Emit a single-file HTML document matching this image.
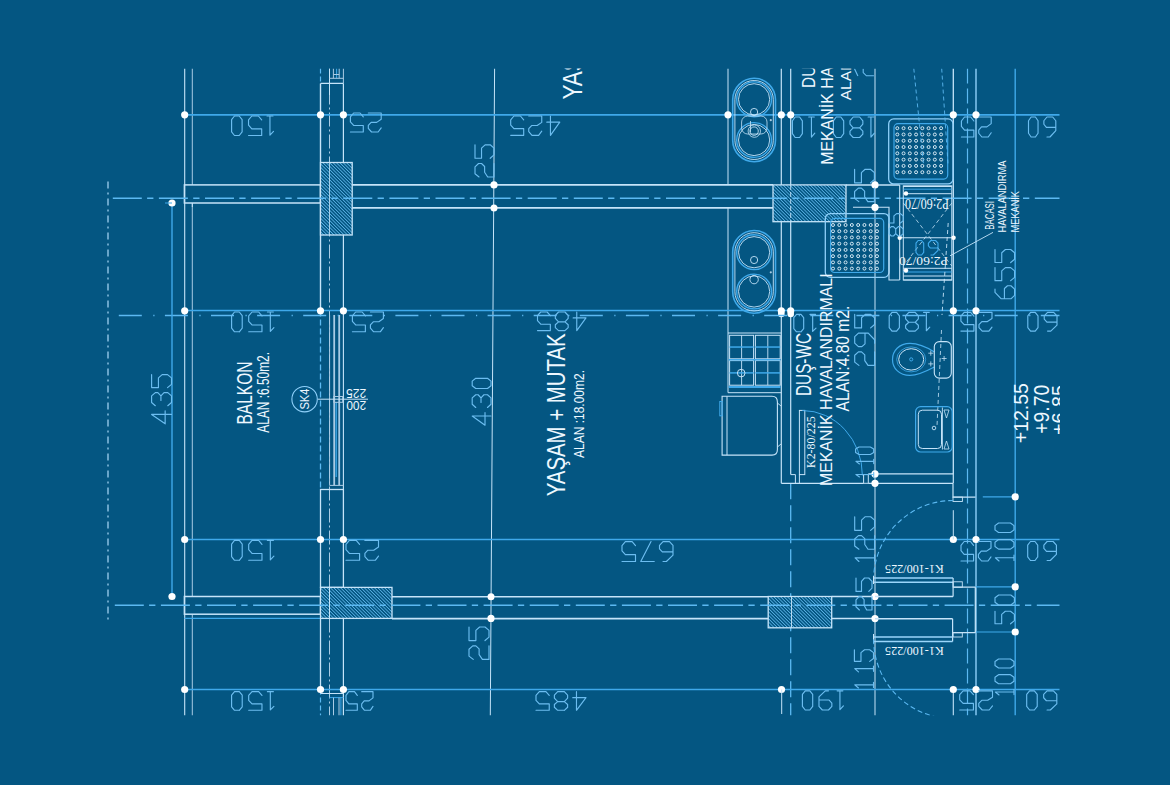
<!DOCTYPE html>
<html><head><meta charset="utf-8"><style>
html,body{margin:0;padding:0;background:#045682;}
svg{display:block;}
</style></head><body>
<svg width="1170" height="785" viewBox="0 0 1170 785">
<defs>
<pattern id="hatch" patternUnits="userSpaceOnUse" width="2.4" height="2.4" patternTransform="rotate(-45)">
<rect width="2.4" height="2.4" fill="#045682"/>
<line x1="0" y1="0" x2="0" y2="2.4" stroke="#6cc6fc" stroke-width="1.3"/>
</pattern>
<clipPath id="clip"><rect x="0" y="68.5" width="1060" height="647"/></clipPath>
</defs>
<rect width="1170" height="785" fill="#045682"/>
<g clip-path="url(#clip)">
<line x1="108" y1="181.5" x2="108" y2="619.6" stroke="#9fd0f0" stroke-width="1.3" stroke-dasharray="7 4 2 4"/>
<line x1="184.7" y1="68.5" x2="184.7" y2="715.5" stroke="#c6e4f9" stroke-width="1.1"/>
<line x1="192.3" y1="68.5" x2="192.3" y2="184.9" stroke="#a9cbe4" stroke-width="1.0"/>
<line x1="192.3" y1="203" x2="192.3" y2="596.5" stroke="#a9cbe4" stroke-width="1.0"/>
<line x1="192.3" y1="614.2" x2="192.3" y2="715.5" stroke="#a9cbe4" stroke-width="1.0"/>
<line x1="494.6" y1="68.5" x2="490.3" y2="715.5" stroke="#c6e4f9" stroke-width="1.0"/>
<line x1="875" y1="68.5" x2="875" y2="715.5" stroke="#c6e4f9" stroke-width="1.0"/>
<line x1="953.3" y1="68.5" x2="953.3" y2="473.9" stroke="#c6e4f9" stroke-width="1.3"/>
<line x1="953.3" y1="689.5" x2="953.3" y2="715.5" stroke="#c6e4f9" stroke-width="1.1"/>
<line x1="967.5" y1="68.5" x2="967.5" y2="715.5" stroke="#5cb9f2" stroke-width="1.2" stroke-dasharray="15 5"/>
<line x1="976" y1="68.5" x2="976" y2="715.5" stroke="#8fd0fa" stroke-width="1.4"/>
<line x1="1015.2" y1="68.5" x2="1015.2" y2="715.5" stroke="#3fa9ea" stroke-width="1.4"/>
<line x1="728" y1="68.5" x2="728" y2="184.9" stroke="#c6e4f9" stroke-width="1.0"/>
<line x1="728" y1="207.9" x2="728" y2="392.7" stroke="#c6e4f9" stroke-width="1.0"/>
<line x1="781.3" y1="68.5" x2="781.3" y2="184.9" stroke="#c6e4f9" stroke-width="1.2"/>
<line x1="781.3" y1="221.7" x2="781.3" y2="483.3" stroke="#c6e4f9" stroke-width="1.2"/>
<line x1="790.7" y1="68.5" x2="790.7" y2="184.9" stroke="#c6e4f9" stroke-width="1.2"/>
<line x1="790.7" y1="221.7" x2="790.7" y2="474.6" stroke="#c6e4f9" stroke-width="1.2"/>
<line x1="790.7" y1="483.3" x2="790.7" y2="715.5" stroke="#5cb9f2" stroke-width="1.3" stroke-dasharray="16 6"/>
<line x1="320.5" y1="68.5" x2="320.5" y2="83.4" stroke="#5cb9f2" stroke-width="1.2" stroke-dasharray="5 3"/>
<line x1="329.5" y1="68.5" x2="329.5" y2="715.5" stroke="#a9cbe4" stroke-width="1.0" stroke-dasharray="14 3 2 3"/>
<line x1="329.5" y1="68.5" x2="329.5" y2="95" stroke="#c6e4f9" stroke-width="1.0"/>
<line x1="333.4" y1="68.5" x2="333.4" y2="78.3" stroke="#a9cbe4" stroke-width="1.0"/>
<line x1="339.2" y1="68.5" x2="339.2" y2="78.3" stroke="#a9cbe4" stroke-width="1.0"/>
<line x1="336.6" y1="68.5" x2="336.6" y2="78.3" stroke="#3fa9ea" stroke-width="1.0"/>
<line x1="333.4" y1="74.5" x2="339.2" y2="74.5" stroke="#a9cbe4" stroke-width="1.0"/>
<line x1="329.5" y1="78.3" x2="343.4" y2="78.3" stroke="#a9cbe4" stroke-width="1.0"/>
<line x1="343.4" y1="68.5" x2="343.4" y2="83.4" stroke="#a9cbe4" stroke-width="1.0"/>
<line x1="320.5" y1="83.4" x2="343.4" y2="83.4" stroke="#c6e4f9" stroke-width="1.4"/>
<line x1="320.5" y1="83.4" x2="320.5" y2="310.5" stroke="#c6e4f9" stroke-width="1.4"/>
<line x1="343.4" y1="83.4" x2="343.4" y2="310.5" stroke="#c6e4f9" stroke-width="1.2"/>
<line x1="320.5" y1="310.5" x2="320.5" y2="489.5" stroke="#5cb9f2" stroke-width="1.3" stroke-dasharray="6 3"/>
<line x1="329.6" y1="315" x2="329.6" y2="485.4" stroke="#a9cbe4" stroke-width="1.0"/>
<line x1="334.2" y1="315" x2="334.2" y2="485.4" stroke="#a9cbe4" stroke-width="1.8"/>
<line x1="339.2" y1="315" x2="339.2" y2="485.4" stroke="#a9cbe4" stroke-width="1.8"/>
<line x1="343.4" y1="310.5" x2="343.4" y2="489.5" stroke="#c6e4f9" stroke-width="1.1"/>
<line x1="336.2" y1="402" x2="336.2" y2="477" stroke="#3fa9ea" stroke-width="1.3"/>
<rect x="333.8" y="396.5" width="8.899999999999977" height="5.800000000000011" rx="0" fill="none" stroke="#a9cbe4" stroke-width="1.0"/>
<line x1="329.6" y1="485.4" x2="343.4" y2="485.4" stroke="#a9cbe4" stroke-width="1.0"/>
<line x1="318" y1="399.2" x2="368" y2="399.2" stroke="#c6e4f9" stroke-width="1.0"/>
<rect x="320.5" y="489.5" width="22.899999999999977" height="97.89999999999998" rx="0" fill="none" stroke="#c6e4f9" stroke-width="1.3"/>
<line x1="320.5" y1="618.4" x2="320.5" y2="689.5" stroke="#c6e4f9" stroke-width="1.3"/>
<line x1="343.4" y1="618.4" x2="343.4" y2="715.5" stroke="#c6e4f9" stroke-width="1.2"/>
<line x1="320.5" y1="689.5" x2="320.5" y2="715.5" stroke="#5cb9f2" stroke-width="1.2" stroke-dasharray="5 3"/>
<line x1="320.5" y1="693.5" x2="343.4" y2="693.5" stroke="#c6e4f9" stroke-width="1.2"/>
<line x1="329.5" y1="697.6" x2="343.4" y2="697.6" stroke="#3fa9ea" stroke-width="1.0"/>
<line x1="333.5" y1="697.6" x2="333.5" y2="715.5" stroke="#a9cbe4" stroke-width="1.0"/>
<line x1="339" y1="697.6" x2="339" y2="715.5" stroke="#a9cbe4" stroke-width="1.0"/>
<line x1="340.9" y1="697.6" x2="340.9" y2="715.5" stroke="#3fa9ea" stroke-width="1.0"/>
<circle cx="304.6" cy="399.2" r="12.7" fill="none" stroke="#8fd0fa" stroke-width="1.1"/>
<text transform="translate(309.2,409.6) rotate(-90)" x="0" y="0" font-family="Liberation Sans" font-size="12.21" fill="#eef8ff" textLength="21.1" lengthAdjust="spacingAndGlyphs">SK4</text>
<line x1="184.7" y1="114.8" x2="1059.5" y2="114.8" stroke="#3fa9ea" stroke-width="1.7"/>
<line x1="184.7" y1="310.5" x2="1059.5" y2="310.5" stroke="#3fa9ea" stroke-width="1.7"/>
<line x1="184.7" y1="539.5" x2="1059.5" y2="539.5" stroke="#3fa9ea" stroke-width="1.7"/>
<line x1="184.7" y1="689.5" x2="1059.5" y2="689.5" stroke="#3fa9ea" stroke-width="1.7"/>
<circle cx="184.7" cy="114.8" r="3.6" fill="#ffffff"/>
<circle cx="320.5" cy="114.8" r="3.6" fill="#ffffff"/>
<circle cx="343.4" cy="114.8" r="3.6" fill="#ffffff"/>
<circle cx="728" cy="114.8" r="3.6" fill="#ffffff"/>
<circle cx="781.3" cy="114.8" r="3.6" fill="#ffffff"/>
<circle cx="790.7" cy="114.8" r="3.6" fill="#ffffff"/>
<circle cx="953.3" cy="114.8" r="3.6" fill="#ffffff"/>
<circle cx="976" cy="114.8" r="3.6" fill="#ffffff"/>
<circle cx="184.7" cy="310.8" r="3.6" fill="#ffffff"/>
<circle cx="320.5" cy="310.8" r="3.6" fill="#ffffff"/>
<circle cx="343.4" cy="310.8" r="3.6" fill="#ffffff"/>
<circle cx="781.3" cy="310.8" r="3.6" fill="#ffffff"/>
<circle cx="790.7" cy="310.8" r="3.6" fill="#ffffff"/>
<circle cx="953.3" cy="310.8" r="3.6" fill="#ffffff"/>
<circle cx="976" cy="310.8" r="3.6" fill="#ffffff"/>
<circle cx="781.3" cy="314" r="3.3" fill="#ffffff"/>
<circle cx="790.7" cy="314" r="3.3" fill="#ffffff"/>
<circle cx="184.7" cy="539.5" r="3.6" fill="#ffffff"/>
<circle cx="320.5" cy="539.5" r="3.6" fill="#ffffff"/>
<circle cx="343.4" cy="539.5" r="3.6" fill="#ffffff"/>
<circle cx="953.3" cy="539.5" r="3.6" fill="#ffffff"/>
<circle cx="976" cy="539.5" r="3.6" fill="#ffffff"/>
<circle cx="184.7" cy="689.5" r="3.6" fill="#ffffff"/>
<circle cx="320.5" cy="689.5" r="3.6" fill="#ffffff"/>
<circle cx="343.4" cy="689.5" r="3.6" fill="#ffffff"/>
<circle cx="781.5" cy="689.5" r="3.6" fill="#ffffff"/>
<circle cx="953.3" cy="689.5" r="3.6" fill="#ffffff"/>
<circle cx="976" cy="689.5" r="3.6" fill="#ffffff"/>
<rect x="184.4" y="184.9" width="136.1" height="18.099999999999994" rx="0" fill="none" stroke="#c6e4f9" stroke-width="1.5"/>
<line x1="192.3" y1="203" x2="192.3" y2="207" stroke="#c6e4f9" stroke-width="1"/>
<line x1="352" y1="184.9" x2="773" y2="184.9" stroke="#c6e4f9" stroke-width="1.6"/>
<line x1="352" y1="207.9" x2="773" y2="207.9" stroke="#c6e4f9" stroke-width="1.6"/>
<rect x="320.5" y="162.5" width="31.69999999999999" height="72.5" fill="url(#hatch)" stroke="#c6e4f9" stroke-width="1.3"/>
<rect x="773" y="184.9" width="73" height="36.79999999999998" fill="url(#hatch)" stroke="#c6e4f9" stroke-width="1.3"/>
<line x1="790.7" y1="184.9" x2="790.7" y2="221.7" stroke="#c6e4f9" stroke-width="0.9" stroke-dasharray="5 2"/>
<line x1="846" y1="184.9" x2="899.7" y2="184.9" stroke="#c6e4f9" stroke-width="1.5"/>
<circle cx="494" cy="184.9" r="3.6" fill="#ffffff"/>
<circle cx="494" cy="207.9" r="3.5" fill="#ffffff"/>
<rect x="184.4" y="596.5" width="136.1" height="17.700000000000045" rx="0" fill="none" stroke="#c6e4f9" stroke-width="1.5"/>
<line x1="184.4" y1="618.4" x2="320.5" y2="618.4" stroke="#3fa9ea" stroke-width="1.3"/>
<rect x="320.5" y="587.4" width="71.5" height="31.0" fill="url(#hatch)" stroke="#c6e4f9" stroke-width="1.3"/>
<line x1="392" y1="596.8" x2="768.2" y2="596.8" stroke="#c6e4f9" stroke-width="1.6"/>
<line x1="392" y1="618.6" x2="768.2" y2="618.6" stroke="#c6e4f9" stroke-width="1.6"/>
<rect x="768.2" y="596.5" width="63.5" height="31.299999999999955" fill="url(#hatch)" stroke="#c6e4f9" stroke-width="1.3"/>
<line x1="791.5" y1="596.5" x2="791.5" y2="627.8" stroke="#c6e4f9" stroke-width="0.9"/>
<line x1="781.7" y1="689.5" x2="781.7" y2="714" stroke="#c6e4f9" stroke-width="1.0"/>
<line x1="831.7" y1="596.4" x2="875" y2="596.4" stroke="#c6e4f9" stroke-width="1.5"/>
<line x1="831.7" y1="618.6" x2="875" y2="618.6" stroke="#c6e4f9" stroke-width="1.5"/>
<circle cx="491" cy="596.8" r="3.5" fill="#ffffff"/>
<circle cx="491" cy="618.4" r="3.6" fill="#ffffff"/>
<circle cx="875" cy="596.4" r="3.6" fill="#ffffff"/>
<circle cx="875" cy="618.6" r="3.6" fill="#ffffff"/>
<line x1="329.5" y1="587.4" x2="329.5" y2="618.4" stroke="#c6e4f9" stroke-width="0.9"/>
<line x1="112.8" y1="198.3" x2="1059.5" y2="198.3" stroke="#5cb9f2" stroke-width="1.5" stroke-dasharray="29 5.3 6.3 5.5"/>
<line x1="118.8" y1="315.6" x2="1059.5" y2="315.6" stroke="#5cb9f2" stroke-width="1.5" stroke-dasharray="23 11.5 1.2 10.4"/>
<line x1="114.8" y1="605.2" x2="1059.5" y2="605.2" stroke="#5cb9f2" stroke-width="1.5" stroke-dasharray="29 5.3 6.3 5.5"/>
<line x1="329.5" y1="162.5" x2="329.5" y2="235" stroke="#c6e4f9" stroke-width="0.8"/>
<line x1="329.5" y1="587.4" x2="329.5" y2="618.4" stroke="#c6e4f9" stroke-width="0.8"/>
<line x1="172" y1="203" x2="172" y2="596.5" stroke="#3fa9ea" stroke-width="1.4"/>
<circle cx="172" cy="203" r="3.6" fill="#ffffff"/>
<circle cx="172" cy="596.5" r="3.6" fill="#ffffff"/>
<line x1="165" y1="203" x2="172" y2="203" stroke="#3fa9ea" stroke-width="1"/>
<rect x="732.7" y="78.3" width="42.8" height="83.39999999999999" rx="21.4" ry="21.4" fill="none" stroke="#3fa9ea" stroke-width="1.6"/>
<rect x="734.9" y="80.5" width="38.4" height="79.0" rx="19.2" ry="19.2" fill="none" stroke="#c6e4f9" stroke-width="0.9"/>
<circle cx="754.1" cy="99.3" r="17.4" fill="none" stroke="#3fa9ea" stroke-width="1.4"/>
<circle cx="754.1" cy="99.3" r="15.6" fill="none" stroke="#c6e4f9" stroke-width="0.9"/>
<circle cx="754.1" cy="140" r="17.4" fill="none" stroke="#3fa9ea" stroke-width="1.4"/>
<circle cx="754.1" cy="140" r="15.6" fill="none" stroke="#c6e4f9" stroke-width="0.9"/>
<circle cx="754.1" cy="112" r="3.6" fill="none" stroke="#c6e4f9" stroke-width="0.9"/>
<circle cx="754.1" cy="131.1" r="4.2" fill="none" stroke="#c6e4f9" stroke-width="0.9"/>
<circle cx="770.8" cy="120.15" r="1.1" fill="#a9cbe4"/>
<rect x="732.7" y="230.5" width="42.8" height="82.69999999999999" rx="21.4" ry="21.4" fill="none" stroke="#3fa9ea" stroke-width="1.6"/>
<rect x="734.9" y="232.7" width="38.4" height="78.30000000000001" rx="19.2" ry="19.2" fill="none" stroke="#c6e4f9" stroke-width="0.9"/>
<circle cx="754.1" cy="252.2" r="17.4" fill="none" stroke="#3fa9ea" stroke-width="1.4"/>
<circle cx="754.1" cy="252.2" r="15.6" fill="none" stroke="#c6e4f9" stroke-width="0.9"/>
<circle cx="754.1" cy="291.5" r="17.4" fill="none" stroke="#3fa9ea" stroke-width="1.4"/>
<circle cx="754.1" cy="291.5" r="15.6" fill="none" stroke="#c6e4f9" stroke-width="0.9"/>
<circle cx="754.1" cy="260" r="3.6" fill="none" stroke="#c6e4f9" stroke-width="0.9"/>
<circle cx="754.1" cy="279.6" r="4.2" fill="none" stroke="#c6e4f9" stroke-width="0.9"/>
<circle cx="770.8" cy="272.35" r="1.1" fill="#a9cbe4"/>
<rect x="741.6" y="116" width="25.399999999999977" height="18" rx="6" fill="none" stroke="#c6e4f9" stroke-width="0.8"/>
<line x1="750.5" y1="121" x2="750.5" y2="132.4" stroke="#c6e4f9" stroke-width="0.8"/>
<circle cx="754.3" cy="131.1" r="6.2" fill="none" stroke="#c6e4f9" stroke-width="0.8"/>
<line x1="728" y1="333" x2="781.3" y2="333" stroke="#c6e4f9" stroke-width="1.0"/>
<line x1="728" y1="392.7" x2="781.3" y2="392.7" stroke="#c6e4f9" stroke-width="1.0"/>
<rect x="729.6" y="335.3" width="24.0" height="23.5" rx="0" fill="none" stroke="#c6e4f9" stroke-width="1.0"/>
<line x1="741.6" y1="335.3" x2="741.6" y2="358.8" stroke="#c6e4f9" stroke-width="0.9"/>
<line x1="729.6" y1="347.05" x2="753.6" y2="347.05" stroke="#3fa9ea" stroke-width="1.5"/>
<rect x="729.6" y="360.6" width="24.0" height="24.599999999999966" rx="0" fill="none" stroke="#c6e4f9" stroke-width="1.0"/>
<line x1="741.6" y1="360.6" x2="741.6" y2="385.2" stroke="#c6e4f9" stroke-width="0.9"/>
<line x1="729.6" y1="372.9" x2="753.6" y2="372.9" stroke="#3fa9ea" stroke-width="1.5"/>
<rect x="755.4" y="335.3" width="24.800000000000068" height="23.5" rx="0" fill="none" stroke="#c6e4f9" stroke-width="1.0"/>
<line x1="767.8" y1="335.3" x2="767.8" y2="358.8" stroke="#c6e4f9" stroke-width="0.9"/>
<line x1="755.4" y1="347.05" x2="780.2" y2="347.05" stroke="#3fa9ea" stroke-width="1.5"/>
<rect x="755.4" y="360.6" width="24.800000000000068" height="24.599999999999966" rx="0" fill="none" stroke="#c6e4f9" stroke-width="1.0"/>
<line x1="767.8" y1="360.6" x2="767.8" y2="385.2" stroke="#c6e4f9" stroke-width="0.9"/>
<line x1="755.4" y1="372.9" x2="780.2" y2="372.9" stroke="#3fa9ea" stroke-width="1.5"/>
<line x1="728.7" y1="387" x2="780.4" y2="387" stroke="#3fa9ea" stroke-width="2.0"/>
<line x1="728.7" y1="359.7" x2="780.4" y2="359.7" stroke="#3fa9ea" stroke-width="1.5"/>
<circle cx="741.2" cy="373.1" r="3.8" fill="none" stroke="#c6e4f9" stroke-width="1.0"/>
<path d="M722.1,396.3 L772,396.3 Q777.4,396.3 777.4,402 L777.4,449.4 Q777.4,455.1 772,455.1 L722.1,455.1 Z" fill="none" stroke="#c6e4f9" stroke-width="1.1"/>
<line x1="727" y1="396.3" x2="727" y2="455.1" stroke="#c6e4f9" stroke-width="1.0"/>
<rect x="719.8" y="401.5" width="2.300000000000068" height="14.300000000000011" rx="0" fill="none" stroke="#3fa9ea" stroke-width="1.0"/>
<line x1="777.4" y1="403" x2="781" y2="406" stroke="#c6e4f9" stroke-width="0.9"/>
<line x1="777.4" y1="447" x2="781" y2="444" stroke="#c6e4f9" stroke-width="0.9"/>
<polyline points="781.3,483.3 863.6,483.3" fill="none" stroke="#c6e4f9" stroke-width="1.2"/>
<polyline points="790.7,474.6 795.4,474.6 795.4,483.3" fill="none" stroke="#c6e4f9" stroke-width="1.0"/>
<rect x="799.4" y="410.4" width="5.399999999999977" height="64.20000000000005" rx="0" fill="none" stroke="#c6e4f9" stroke-width="1.0"/>
<line x1="799.4" y1="474.6" x2="799.4" y2="483.3" stroke="#c6e4f9" stroke-width="1.0"/>
<path d="M802.4,410.5 A60 65 0 0 1 862.4,475.5" fill="none" stroke="#3fa9ea" stroke-width="1.0"/>
<rect x="863.6" y="474.6" width="4.699999999999932" height="8.699999999999989" rx="0" fill="none" stroke="#c6e4f9" stroke-width="1.0"/>
<line x1="868.3" y1="473.9" x2="953" y2="473.9" stroke="#c6e4f9" stroke-width="1.3"/>
<line x1="868.3" y1="483.3" x2="953" y2="483.3" stroke="#c6e4f9" stroke-width="1.3"/>
<circle cx="875" cy="473.9" r="3.6" fill="#ffffff"/>
<circle cx="875" cy="483.3" r="3.6" fill="#ffffff"/>
<polyline points="953,483.3 953,497.1 975.5,497.1" fill="none" stroke="#c6e4f9" stroke-width="1.2"/>
<rect x="953" y="497.1" width="9.399999999999977" height="4.399999999999977" rx="0" fill="none" stroke="#c6e4f9" stroke-width="0.9"/>
<line x1="953.3" y1="510.2" x2="953.3" y2="539.5" stroke="#c6e4f9" stroke-width="1.0"/>
<line x1="982.8" y1="496.8" x2="1015.2" y2="496.8" stroke="#3fa9ea" stroke-width="1.3"/>
<circle cx="1015.2" cy="496.8" r="3.6" fill="#ffffff"/>
<path d="M953.1,500.5 A79.5 79.5 0 0 0 873.6,580" fill="none" stroke="#5cb9f2" stroke-width="1.1" stroke-dasharray="5 3"/>
<line x1="873.5" y1="578" x2="953.1" y2="578" stroke="#9ad6fb" stroke-width="1.5"/>
<line x1="873.5" y1="582.3" x2="953.1" y2="582.3" stroke="#9ad6fb" stroke-width="1.5"/>
<line x1="953.1" y1="578" x2="953.1" y2="596.4" stroke="#c6e4f9" stroke-width="1.2"/>
<line x1="873.5" y1="576" x2="873.5" y2="584" stroke="#c6e4f9" stroke-width="1"/>
<rect x="953.1" y="581.8" width="9.199999999999932" height="5.400000000000091" rx="0" fill="none" stroke="#c6e4f9" stroke-width="0.9"/>
<line x1="953.1" y1="587.2" x2="975.3" y2="587.2" stroke="#c6e4f9" stroke-width="1.2"/>
<line x1="975.3" y1="587.2" x2="975.3" y2="632.7" stroke="#c6e4f9" stroke-width="1.2"/>
<line x1="976" y1="586.8" x2="1015.2" y2="586.8" stroke="#3fa9ea" stroke-width="1.2"/>
<circle cx="1015.2" cy="586.8" r="3.6" fill="#ffffff"/>
<line x1="875" y1="596.4" x2="953.1" y2="596.4" stroke="#c6e4f9" stroke-width="1.5"/>
<line x1="875" y1="618.8" x2="952.6" y2="618.8" stroke="#c6e4f9" stroke-width="1.5"/>
<line x1="952.6" y1="618.8" x2="952.6" y2="641.4" stroke="#c6e4f9" stroke-width="1.2"/>
<line x1="953.1" y1="632.7" x2="975.3" y2="632.7" stroke="#c6e4f9" stroke-width="1.2"/>
<rect x="953.1" y="632.7" width="9.199999999999932" height="4.2999999999999545" rx="0" fill="none" stroke="#c6e4f9" stroke-width="0.9"/>
<line x1="873.5" y1="637" x2="952.6" y2="637" stroke="#9ad6fb" stroke-width="1.5"/>
<line x1="873.5" y1="641.4" x2="952.6" y2="641.4" stroke="#9ad6fb" stroke-width="1.5"/>
<line x1="873.5" y1="634" x2="873.5" y2="643" stroke="#c6e4f9" stroke-width="1"/>
<line x1="976" y1="632" x2="1015.2" y2="632" stroke="#3fa9ea" stroke-width="1.2"/>
<circle cx="1015.2" cy="632" r="3.6" fill="#ffffff"/>
<path d="M873.6,639.2 A79.5 79.5 0 0 0 953.1,718.7" fill="none" stroke="#5cb9f2" stroke-width="1.1" stroke-dasharray="5 3"/>
<text transform="translate(943.7,564.7) rotate(180)" x="0" y="0" font-family="Liberation Serif" font-size="13.33" fill="#eef8ff" textLength="58.7" lengthAdjust="spacingAndGlyphs">K1-100/225</text>
<text transform="translate(943.7,646.7) rotate(180)" x="0" y="0" font-family="Liberation Serif" font-size="13.33" fill="#eef8ff" textLength="58.7" lengthAdjust="spacingAndGlyphs">K1-100/225</text>
<text transform="translate(814.8,467.9) rotate(-90)" x="0" y="0" font-family="Liberation Serif" font-size="12.12" fill="#eef8ff" textLength="51.5" lengthAdjust="spacingAndGlyphs">K2-80/225</text>
<rect x="888.7" y="118.9" width="64.29999999999995" height="65.0" rx="5" fill="none" stroke="#8fd0fa" stroke-width="1.3"/>
<rect x="894.0" y="123.7" width="53.69999999999995" height="55.4" rx="4" fill="none" stroke="#3fa9ea" stroke-width="1.2"/>
<circle cx="897.3" cy="128.2" r="1.5" fill="none" stroke="#e8f6ff" stroke-width="0.9"/>
<circle cx="897.3" cy="134.48571428571427" r="1.5" fill="none" stroke="#e8f6ff" stroke-width="0.9"/>
<circle cx="897.3" cy="140.77142857142857" r="1.5" fill="none" stroke="#e8f6ff" stroke-width="0.9"/>
<circle cx="897.3" cy="147.05714285714285" r="1.5" fill="none" stroke="#e8f6ff" stroke-width="0.9"/>
<circle cx="897.3" cy="153.34285714285713" r="1.5" fill="none" stroke="#e8f6ff" stroke-width="0.9"/>
<circle cx="897.3" cy="159.6285714285714" r="1.5" fill="none" stroke="#e8f6ff" stroke-width="0.9"/>
<circle cx="897.3" cy="165.9142857142857" r="1.5" fill="none" stroke="#e8f6ff" stroke-width="0.9"/>
<circle cx="897.3" cy="172.2" r="1.5" fill="none" stroke="#e8f6ff" stroke-width="0.9"/>
<circle cx="903.5571428571428" cy="128.2" r="1.5" fill="none" stroke="#e8f6ff" stroke-width="0.9"/>
<circle cx="903.5571428571428" cy="134.48571428571427" r="1.5" fill="none" stroke="#e8f6ff" stroke-width="0.9"/>
<circle cx="903.5571428571428" cy="140.77142857142857" r="1.5" fill="none" stroke="#e8f6ff" stroke-width="0.9"/>
<circle cx="903.5571428571428" cy="147.05714285714285" r="1.5" fill="none" stroke="#e8f6ff" stroke-width="0.9"/>
<circle cx="903.5571428571428" cy="153.34285714285713" r="1.5" fill="none" stroke="#e8f6ff" stroke-width="0.9"/>
<circle cx="903.5571428571428" cy="159.6285714285714" r="1.5" fill="none" stroke="#e8f6ff" stroke-width="0.9"/>
<circle cx="903.5571428571428" cy="165.9142857142857" r="1.5" fill="none" stroke="#e8f6ff" stroke-width="0.9"/>
<circle cx="903.5571428571428" cy="172.2" r="1.5" fill="none" stroke="#e8f6ff" stroke-width="0.9"/>
<circle cx="909.8142857142857" cy="128.2" r="1.5" fill="none" stroke="#e8f6ff" stroke-width="0.9"/>
<circle cx="909.8142857142857" cy="134.48571428571427" r="1.5" fill="none" stroke="#e8f6ff" stroke-width="0.9"/>
<circle cx="909.8142857142857" cy="140.77142857142857" r="1.5" fill="none" stroke="#e8f6ff" stroke-width="0.9"/>
<circle cx="909.8142857142857" cy="147.05714285714285" r="1.5" fill="none" stroke="#e8f6ff" stroke-width="0.9"/>
<circle cx="909.8142857142857" cy="153.34285714285713" r="1.5" fill="none" stroke="#e8f6ff" stroke-width="0.9"/>
<circle cx="909.8142857142857" cy="159.6285714285714" r="1.5" fill="none" stroke="#e8f6ff" stroke-width="0.9"/>
<circle cx="909.8142857142857" cy="165.9142857142857" r="1.5" fill="none" stroke="#e8f6ff" stroke-width="0.9"/>
<circle cx="909.8142857142857" cy="172.2" r="1.5" fill="none" stroke="#e8f6ff" stroke-width="0.9"/>
<circle cx="916.0714285714286" cy="128.2" r="1.5" fill="none" stroke="#e8f6ff" stroke-width="0.9"/>
<circle cx="916.0714285714286" cy="134.48571428571427" r="1.5" fill="none" stroke="#e8f6ff" stroke-width="0.9"/>
<circle cx="916.0714285714286" cy="140.77142857142857" r="1.5" fill="none" stroke="#e8f6ff" stroke-width="0.9"/>
<circle cx="916.0714285714286" cy="147.05714285714285" r="1.5" fill="none" stroke="#e8f6ff" stroke-width="0.9"/>
<circle cx="916.0714285714286" cy="153.34285714285713" r="1.5" fill="none" stroke="#e8f6ff" stroke-width="0.9"/>
<circle cx="916.0714285714286" cy="159.6285714285714" r="1.5" fill="none" stroke="#e8f6ff" stroke-width="0.9"/>
<circle cx="916.0714285714286" cy="165.9142857142857" r="1.5" fill="none" stroke="#e8f6ff" stroke-width="0.9"/>
<circle cx="916.0714285714286" cy="172.2" r="1.5" fill="none" stroke="#e8f6ff" stroke-width="0.9"/>
<circle cx="922.3285714285714" cy="128.2" r="1.5" fill="none" stroke="#e8f6ff" stroke-width="0.9"/>
<circle cx="922.3285714285714" cy="134.48571428571427" r="1.5" fill="none" stroke="#e8f6ff" stroke-width="0.9"/>
<circle cx="922.3285714285714" cy="140.77142857142857" r="1.5" fill="none" stroke="#e8f6ff" stroke-width="0.9"/>
<circle cx="922.3285714285714" cy="147.05714285714285" r="1.5" fill="none" stroke="#e8f6ff" stroke-width="0.9"/>
<circle cx="922.3285714285714" cy="153.34285714285713" r="1.5" fill="none" stroke="#e8f6ff" stroke-width="0.9"/>
<circle cx="922.3285714285714" cy="159.6285714285714" r="1.5" fill="none" stroke="#e8f6ff" stroke-width="0.9"/>
<circle cx="922.3285714285714" cy="165.9142857142857" r="1.5" fill="none" stroke="#e8f6ff" stroke-width="0.9"/>
<circle cx="922.3285714285714" cy="172.2" r="1.5" fill="none" stroke="#e8f6ff" stroke-width="0.9"/>
<circle cx="928.5857142857143" cy="128.2" r="1.5" fill="none" stroke="#e8f6ff" stroke-width="0.9"/>
<circle cx="928.5857142857143" cy="134.48571428571427" r="1.5" fill="none" stroke="#e8f6ff" stroke-width="0.9"/>
<circle cx="928.5857142857143" cy="140.77142857142857" r="1.5" fill="none" stroke="#e8f6ff" stroke-width="0.9"/>
<circle cx="928.5857142857143" cy="147.05714285714285" r="1.5" fill="none" stroke="#e8f6ff" stroke-width="0.9"/>
<circle cx="928.5857142857143" cy="153.34285714285713" r="1.5" fill="none" stroke="#e8f6ff" stroke-width="0.9"/>
<circle cx="928.5857142857143" cy="159.6285714285714" r="1.5" fill="none" stroke="#e8f6ff" stroke-width="0.9"/>
<circle cx="928.5857142857143" cy="165.9142857142857" r="1.5" fill="none" stroke="#e8f6ff" stroke-width="0.9"/>
<circle cx="928.5857142857143" cy="172.2" r="1.5" fill="none" stroke="#e8f6ff" stroke-width="0.9"/>
<circle cx="934.8428571428572" cy="128.2" r="1.5" fill="none" stroke="#e8f6ff" stroke-width="0.9"/>
<circle cx="934.8428571428572" cy="134.48571428571427" r="1.5" fill="none" stroke="#e8f6ff" stroke-width="0.9"/>
<circle cx="934.8428571428572" cy="140.77142857142857" r="1.5" fill="none" stroke="#e8f6ff" stroke-width="0.9"/>
<circle cx="934.8428571428572" cy="147.05714285714285" r="1.5" fill="none" stroke="#e8f6ff" stroke-width="0.9"/>
<circle cx="934.8428571428572" cy="153.34285714285713" r="1.5" fill="none" stroke="#e8f6ff" stroke-width="0.9"/>
<circle cx="934.8428571428572" cy="159.6285714285714" r="1.5" fill="none" stroke="#e8f6ff" stroke-width="0.9"/>
<circle cx="934.8428571428572" cy="165.9142857142857" r="1.5" fill="none" stroke="#e8f6ff" stroke-width="0.9"/>
<circle cx="934.8428571428572" cy="172.2" r="1.5" fill="none" stroke="#e8f6ff" stroke-width="0.9"/>
<circle cx="941.1" cy="128.2" r="1.5" fill="none" stroke="#e8f6ff" stroke-width="0.9"/>
<circle cx="941.1" cy="134.48571428571427" r="1.5" fill="none" stroke="#e8f6ff" stroke-width="0.9"/>
<circle cx="941.1" cy="140.77142857142857" r="1.5" fill="none" stroke="#e8f6ff" stroke-width="0.9"/>
<circle cx="941.1" cy="147.05714285714285" r="1.5" fill="none" stroke="#e8f6ff" stroke-width="0.9"/>
<circle cx="941.1" cy="153.34285714285713" r="1.5" fill="none" stroke="#e8f6ff" stroke-width="0.9"/>
<circle cx="941.1" cy="159.6285714285714" r="1.5" fill="none" stroke="#e8f6ff" stroke-width="0.9"/>
<circle cx="941.1" cy="165.9142857142857" r="1.5" fill="none" stroke="#e8f6ff" stroke-width="0.9"/>
<circle cx="941.1" cy="172.2" r="1.5" fill="none" stroke="#e8f6ff" stroke-width="0.9"/>
<rect x="825.3" y="213.6" width="63.700000000000045" height="63.70000000000002" rx="5" fill="none" stroke="#8fd0fa" stroke-width="1.3"/>
<rect x="830.5999999999999" y="218.4" width="53.100000000000044" height="54.100000000000016" rx="4" fill="none" stroke="#3fa9ea" stroke-width="1.2"/>
<circle cx="833.0" cy="225.0" r="1.5" fill="none" stroke="#e8f6ff" stroke-width="0.9"/>
<circle cx="833.0" cy="231.22857142857143" r="1.5" fill="none" stroke="#e8f6ff" stroke-width="0.9"/>
<circle cx="833.0" cy="237.45714285714286" r="1.5" fill="none" stroke="#e8f6ff" stroke-width="0.9"/>
<circle cx="833.0" cy="243.6857142857143" r="1.5" fill="none" stroke="#e8f6ff" stroke-width="0.9"/>
<circle cx="833.0" cy="249.91428571428574" r="1.5" fill="none" stroke="#e8f6ff" stroke-width="0.9"/>
<circle cx="833.0" cy="256.14285714285717" r="1.5" fill="none" stroke="#e8f6ff" stroke-width="0.9"/>
<circle cx="833.0" cy="262.3714285714286" r="1.5" fill="none" stroke="#e8f6ff" stroke-width="0.9"/>
<circle cx="833.0" cy="268.6" r="1.5" fill="none" stroke="#e8f6ff" stroke-width="0.9"/>
<circle cx="839.2857142857143" cy="225.0" r="1.5" fill="none" stroke="#e8f6ff" stroke-width="0.9"/>
<circle cx="839.2857142857143" cy="231.22857142857143" r="1.5" fill="none" stroke="#e8f6ff" stroke-width="0.9"/>
<circle cx="839.2857142857143" cy="237.45714285714286" r="1.5" fill="none" stroke="#e8f6ff" stroke-width="0.9"/>
<circle cx="839.2857142857143" cy="243.6857142857143" r="1.5" fill="none" stroke="#e8f6ff" stroke-width="0.9"/>
<circle cx="839.2857142857143" cy="249.91428571428574" r="1.5" fill="none" stroke="#e8f6ff" stroke-width="0.9"/>
<circle cx="839.2857142857143" cy="256.14285714285717" r="1.5" fill="none" stroke="#e8f6ff" stroke-width="0.9"/>
<circle cx="839.2857142857143" cy="262.3714285714286" r="1.5" fill="none" stroke="#e8f6ff" stroke-width="0.9"/>
<circle cx="839.2857142857143" cy="268.6" r="1.5" fill="none" stroke="#e8f6ff" stroke-width="0.9"/>
<circle cx="845.5714285714286" cy="225.0" r="1.5" fill="none" stroke="#e8f6ff" stroke-width="0.9"/>
<circle cx="845.5714285714286" cy="231.22857142857143" r="1.5" fill="none" stroke="#e8f6ff" stroke-width="0.9"/>
<circle cx="845.5714285714286" cy="237.45714285714286" r="1.5" fill="none" stroke="#e8f6ff" stroke-width="0.9"/>
<circle cx="845.5714285714286" cy="243.6857142857143" r="1.5" fill="none" stroke="#e8f6ff" stroke-width="0.9"/>
<circle cx="845.5714285714286" cy="249.91428571428574" r="1.5" fill="none" stroke="#e8f6ff" stroke-width="0.9"/>
<circle cx="845.5714285714286" cy="256.14285714285717" r="1.5" fill="none" stroke="#e8f6ff" stroke-width="0.9"/>
<circle cx="845.5714285714286" cy="262.3714285714286" r="1.5" fill="none" stroke="#e8f6ff" stroke-width="0.9"/>
<circle cx="845.5714285714286" cy="268.6" r="1.5" fill="none" stroke="#e8f6ff" stroke-width="0.9"/>
<circle cx="851.8571428571429" cy="225.0" r="1.5" fill="none" stroke="#e8f6ff" stroke-width="0.9"/>
<circle cx="851.8571428571429" cy="231.22857142857143" r="1.5" fill="none" stroke="#e8f6ff" stroke-width="0.9"/>
<circle cx="851.8571428571429" cy="237.45714285714286" r="1.5" fill="none" stroke="#e8f6ff" stroke-width="0.9"/>
<circle cx="851.8571428571429" cy="243.6857142857143" r="1.5" fill="none" stroke="#e8f6ff" stroke-width="0.9"/>
<circle cx="851.8571428571429" cy="249.91428571428574" r="1.5" fill="none" stroke="#e8f6ff" stroke-width="0.9"/>
<circle cx="851.8571428571429" cy="256.14285714285717" r="1.5" fill="none" stroke="#e8f6ff" stroke-width="0.9"/>
<circle cx="851.8571428571429" cy="262.3714285714286" r="1.5" fill="none" stroke="#e8f6ff" stroke-width="0.9"/>
<circle cx="851.8571428571429" cy="268.6" r="1.5" fill="none" stroke="#e8f6ff" stroke-width="0.9"/>
<circle cx="858.1428571428571" cy="225.0" r="1.5" fill="none" stroke="#e8f6ff" stroke-width="0.9"/>
<circle cx="858.1428571428571" cy="231.22857142857143" r="1.5" fill="none" stroke="#e8f6ff" stroke-width="0.9"/>
<circle cx="858.1428571428571" cy="237.45714285714286" r="1.5" fill="none" stroke="#e8f6ff" stroke-width="0.9"/>
<circle cx="858.1428571428571" cy="243.6857142857143" r="1.5" fill="none" stroke="#e8f6ff" stroke-width="0.9"/>
<circle cx="858.1428571428571" cy="249.91428571428574" r="1.5" fill="none" stroke="#e8f6ff" stroke-width="0.9"/>
<circle cx="858.1428571428571" cy="256.14285714285717" r="1.5" fill="none" stroke="#e8f6ff" stroke-width="0.9"/>
<circle cx="858.1428571428571" cy="262.3714285714286" r="1.5" fill="none" stroke="#e8f6ff" stroke-width="0.9"/>
<circle cx="858.1428571428571" cy="268.6" r="1.5" fill="none" stroke="#e8f6ff" stroke-width="0.9"/>
<circle cx="864.4285714285714" cy="225.0" r="1.5" fill="none" stroke="#e8f6ff" stroke-width="0.9"/>
<circle cx="864.4285714285714" cy="231.22857142857143" r="1.5" fill="none" stroke="#e8f6ff" stroke-width="0.9"/>
<circle cx="864.4285714285714" cy="237.45714285714286" r="1.5" fill="none" stroke="#e8f6ff" stroke-width="0.9"/>
<circle cx="864.4285714285714" cy="243.6857142857143" r="1.5" fill="none" stroke="#e8f6ff" stroke-width="0.9"/>
<circle cx="864.4285714285714" cy="249.91428571428574" r="1.5" fill="none" stroke="#e8f6ff" stroke-width="0.9"/>
<circle cx="864.4285714285714" cy="256.14285714285717" r="1.5" fill="none" stroke="#e8f6ff" stroke-width="0.9"/>
<circle cx="864.4285714285714" cy="262.3714285714286" r="1.5" fill="none" stroke="#e8f6ff" stroke-width="0.9"/>
<circle cx="864.4285714285714" cy="268.6" r="1.5" fill="none" stroke="#e8f6ff" stroke-width="0.9"/>
<circle cx="870.7142857142857" cy="225.0" r="1.5" fill="none" stroke="#e8f6ff" stroke-width="0.9"/>
<circle cx="870.7142857142857" cy="231.22857142857143" r="1.5" fill="none" stroke="#e8f6ff" stroke-width="0.9"/>
<circle cx="870.7142857142857" cy="237.45714285714286" r="1.5" fill="none" stroke="#e8f6ff" stroke-width="0.9"/>
<circle cx="870.7142857142857" cy="243.6857142857143" r="1.5" fill="none" stroke="#e8f6ff" stroke-width="0.9"/>
<circle cx="870.7142857142857" cy="249.91428571428574" r="1.5" fill="none" stroke="#e8f6ff" stroke-width="0.9"/>
<circle cx="870.7142857142857" cy="256.14285714285717" r="1.5" fill="none" stroke="#e8f6ff" stroke-width="0.9"/>
<circle cx="870.7142857142857" cy="262.3714285714286" r="1.5" fill="none" stroke="#e8f6ff" stroke-width="0.9"/>
<circle cx="870.7142857142857" cy="268.6" r="1.5" fill="none" stroke="#e8f6ff" stroke-width="0.9"/>
<circle cx="877.0" cy="225.0" r="1.5" fill="none" stroke="#e8f6ff" stroke-width="0.9"/>
<circle cx="877.0" cy="231.22857142857143" r="1.5" fill="none" stroke="#e8f6ff" stroke-width="0.9"/>
<circle cx="877.0" cy="237.45714285714286" r="1.5" fill="none" stroke="#e8f6ff" stroke-width="0.9"/>
<circle cx="877.0" cy="243.6857142857143" r="1.5" fill="none" stroke="#e8f6ff" stroke-width="0.9"/>
<circle cx="877.0" cy="249.91428571428574" r="1.5" fill="none" stroke="#e8f6ff" stroke-width="0.9"/>
<circle cx="877.0" cy="256.14285714285717" r="1.5" fill="none" stroke="#e8f6ff" stroke-width="0.9"/>
<circle cx="877.0" cy="262.3714285714286" r="1.5" fill="none" stroke="#e8f6ff" stroke-width="0.9"/>
<circle cx="877.0" cy="268.6" r="1.5" fill="none" stroke="#e8f6ff" stroke-width="0.9"/>
<line x1="913.8" y1="68.6" x2="923.7" y2="166" stroke="#5cb9f2" stroke-width="0.9" stroke-dasharray="4 3"/>
<line x1="941.7" y1="68.6" x2="948" y2="164" stroke="#5cb9f2" stroke-width="0.9" stroke-dasharray="4 3"/>
<line x1="899.7" y1="184.9" x2="899.7" y2="280" stroke="#c6e4f9" stroke-width="1.1"/>
<rect x="903.3" y="185.8" width="48.5" height="94.19999999999999" rx="0" fill="none" stroke="#c6e4f9" stroke-width="1.0"/>
<line x1="903.3" y1="186.5" x2="951.8" y2="186.5" stroke="#c6e4f9" stroke-width="1.0"/>
<line x1="903.3" y1="189.2" x2="951.8" y2="189.2" stroke="#3fa9ea" stroke-width="1.0"/>
<line x1="903.3" y1="193.7" x2="951.8" y2="193.7" stroke="#c6e4f9" stroke-width="1.0"/>
<line x1="903.3" y1="268.3" x2="951.8" y2="268.3" stroke="#c6e4f9" stroke-width="1.0"/>
<line x1="903.3" y1="272" x2="951.8" y2="272" stroke="#3fa9ea" stroke-width="1.0"/>
<line x1="903.3" y1="276" x2="951.8" y2="276" stroke="#c6e4f9" stroke-width="1.0"/>
<line x1="903.3" y1="280" x2="951.8" y2="280" stroke="#c6e4f9" stroke-width="1.0"/>
<line x1="903.3" y1="203" x2="951.8" y2="266" stroke="#c6e4f9" stroke-width="0.8" stroke-dasharray="4 3"/>
<line x1="951.8" y1="203" x2="903.3" y2="266" stroke="#c6e4f9" stroke-width="0.8" stroke-dasharray="4 3"/>
<line x1="899.7" y1="237.8" x2="953.3" y2="237.8" stroke="#c6e4f9" stroke-width="1.1"/>
<circle cx="906" cy="193.5" r="2.2" fill="#ffffff"/>
<circle cx="906" cy="270.5" r="2.2" fill="#ffffff"/>
<circle cx="899.7" cy="237.8" r="2.2" fill="#ffffff"/>
<circle cx="953.6" cy="237.8" r="2.2" fill="#ffffff"/>
<polyline points="853,207.3 889,207.3 889,280 899.7,280" fill="none" stroke="#c6e4f9" stroke-width="1.1"/>
<circle cx="875" cy="184.9" r="3.6" fill="#ffffff"/>
<circle cx="875" cy="207.3" r="3.6" fill="#ffffff"/>
<text transform="translate(949,199) rotate(180)" x="0" y="0" font-family="Liberation Serif" font-size="13.94" fill="#eef8ff" textLength="44.0" lengthAdjust="spacingAndGlyphs">P2:60/70</text>
<text transform="translate(948,256.7) rotate(180)" x="0" y="0" font-family="Liberation Serif" font-size="13.48" fill="#eef8ff" textLength="49.0" lengthAdjust="spacingAndGlyphs">P2:60/70</text>
<path transform="translate(938,255) rotate(180)" d="M7.11,0.00 L4.71,0.00 L0.00,4.62 L0.00,11.78 L2.50,14.50 L7.11,14.50 L9.61,11.78 L9.61,9.24 L7.59,6.98 L0.00,6.98 M16.43,0.00 L19.89,0.00 L22.00,2.72 L22.00,11.78 L19.89,14.50 L16.43,14.50 L14.31,11.78 L14.31,2.72 L16.43,0.00" fill="none" stroke="#3fa9ea" stroke-width="1.15" stroke-linejoin="round" stroke-linecap="round"/>
<line x1="950" y1="255.8" x2="993" y2="232.4" stroke="#c6e4f9" stroke-width="0.9"/>
<line x1="948.2" y1="223" x2="942" y2="315" stroke="#c6e4f9" stroke-width="0.9" stroke-dasharray="4 3"/>
<path d="M934.3,352 C925,346 918,343.4 910,343.4 C899,343.4 892.5,351 892.5,359.4 C892.5,368 899,375.4 910,375.4 C918,375.4 925,372 934.3,367" fill="none" stroke="#3fa9ea" stroke-width="1.2"/>
<ellipse cx="911.2" cy="359.4" rx="12.5" ry="10.7" fill="none" stroke="#c6e4f9" stroke-width="1.0"/>
<ellipse cx="911.2" cy="359.4" rx="14.5" ry="12.5" fill="none" stroke="#3fa9ea" stroke-width="0.8"/>
<circle cx="911.2" cy="359.4" r="1.6" fill="none" stroke="#3fa9ea" stroke-width="1.0"/>
<rect x="934.3" y="341.6" width="17.0" height="36.5" rx="5" fill="none" stroke="#c6e4f9" stroke-width="1.1"/>
<line x1="928.3" y1="353.2" x2="933.3" y2="353.2" stroke="#c6e4f9" stroke-width="0.8"/>
<line x1="930.8" y1="350.7" x2="930.8" y2="355.7" stroke="#c6e4f9" stroke-width="0.8"/>
<line x1="928.3" y1="363.9" x2="933.3" y2="363.9" stroke="#c6e4f9" stroke-width="0.8"/>
<line x1="930.8" y1="361.4" x2="930.8" y2="366.4" stroke="#c6e4f9" stroke-width="0.8"/>
<line x1="941.6" y1="358.5" x2="946.6" y2="358.5" stroke="#c6e4f9" stroke-width="0.8"/>
<line x1="944.1" y1="356" x2="944.1" y2="361" stroke="#c6e4f9" stroke-width="0.8"/>
<line x1="941.5" y1="330" x2="937" y2="426" stroke="#c6e4f9" stroke-width="0.8" stroke-dasharray="4 3"/>
<rect x="915.6" y="406.6" width="36.60000000000002" height="45.39999999999998" rx="5" fill="none" stroke="#3fa9ea" stroke-width="1.2"/>
<rect x="918.3" y="410.2" width="23.200000000000045" height="38.30000000000001" rx="4" fill="none" stroke="#c6e4f9" stroke-width="1.0"/>
<line x1="942.4" y1="407.5" x2="942.4" y2="449.5" stroke="#c6e4f9" stroke-width="0.9"/>
<polyline points="944,410 949,410 946.5,418 944,410" fill="none" stroke="#c6e4f9" stroke-width="0.8"/>
<polyline points="944,449 949,449 946.5,441 944,449" fill="none" stroke="#c6e4f9" stroke-width="0.8"/>
<circle cx="934" cy="428" r="1.8" fill="none" stroke="#c6e4f9" stroke-width="0.9"/>
<line x1="953.3" y1="473.9" x2="953.3" y2="483.3" stroke="#c6e4f9" stroke-width="1.2"/>
<path transform="translate(273.5,135.5) rotate(180)" d="M0.00,4.14 L3.55,0.37 L3.55,19.50 M0.53,19.50 L6.44,19.50 M24.96,0.00 L11.81,0.00 L11.81,6.70 L21.67,6.70 L24.96,10.36 L24.96,15.60 L21.67,19.50 L15.10,19.50 L11.81,15.60 M34.28,0.00 L39.01,0.00 L41.90,3.66 L41.90,15.84 L39.01,19.50 L34.28,19.50 L31.38,15.84 L31.38,3.66 L34.28,0.00" fill="none" stroke="#6cbdf0" stroke-width="1.15" stroke-linejoin="round" stroke-linecap="round"/>
<path transform="translate(381.2,132) rotate(180)" d="M12.89,19.00 L0.00,19.00 L0.00,12.71 L4.51,9.62 L10.06,9.62 L12.89,6.53 L12.89,3.56 L9.67,0.00 L3.09,0.00 L0.00,4.04 M30.80,0.00 L17.91,0.00 L17.91,6.53 L27.58,6.53 L30.80,10.09 L30.80,15.20 L27.58,19.00 L21.13,19.00 L17.91,15.20" fill="none" stroke="#6cbdf0" stroke-width="1.15" stroke-linejoin="round" stroke-linecap="round"/>
<path transform="translate(559.8,135.3) rotate(180)" d="M9.36,19.30 L9.36,0.00 L0.00,13.15 L13.00,13.15 M31.05,19.30 L18.05,19.30 L18.05,12.91 L22.60,9.77 L28.19,9.77 L31.05,6.63 L31.05,3.62 L27.80,0.00 L21.17,0.00 L18.05,4.10 M49.10,0.00 L36.10,0.00 L36.10,6.63 L45.85,6.63 L49.10,10.25 L49.10,15.44 L45.85,19.30 L39.35,19.30 L36.10,15.44" fill="none" stroke="#6cbdf0" stroke-width="1.15" stroke-linejoin="round" stroke-linecap="round"/>
<path transform="translate(814.8,137.5) rotate(180)" d="M0.00,4.36 L3.36,0.38 L3.36,20.50 M0.50,20.50 L6.10,20.50 M15.18,0.00 L19.66,0.00 L22.40,3.84 L22.40,16.66 L19.66,20.50 L15.18,20.50 L12.44,16.66 L12.44,3.84 L15.18,0.00" fill="none" stroke="#6cbdf0" stroke-width="1.15" stroke-linejoin="round" stroke-linecap="round"/>
<path transform="translate(874.4,137.5) rotate(180)" d="M0.00,4.36 L3.47,0.38 L3.47,20.50 M0.51,20.50 L6.30,20.50 M14.78,0.00 L21.21,0.00 L24.42,3.33 L24.42,6.41 L21.21,9.61 L14.78,9.61 L11.56,6.41 L11.56,3.33 L14.78,0.00 M14.78,9.61 L21.21,9.61 L24.42,13.45 L24.42,16.66 L21.21,20.50 L14.78,20.50 L11.56,16.66 L11.56,13.45 L14.78,9.61 M33.54,0.00 L38.17,0.00 L41.00,3.84 L41.00,16.66 L38.17,20.50 L33.54,20.50 L30.71,16.66 L30.71,3.84 L33.54,0.00" fill="none" stroke="#6cbdf0" stroke-width="1.15" stroke-linejoin="round" stroke-linecap="round"/>
<path transform="translate(991.2,137) rotate(180)" d="M12.47,20.00 L0.00,20.00 L0.00,13.38 L4.37,10.12 L9.73,10.12 L12.47,6.88 L12.47,3.75 L9.36,0.00 L2.99,0.00 L0.00,4.25 M29.80,0.00 L17.33,0.00 L17.33,6.88 L26.68,6.88 L29.80,10.62 L29.80,16.00 L26.68,20.00 L20.44,20.00 L17.33,16.00" fill="none" stroke="#6cbdf0" stroke-width="1.15" stroke-linejoin="round" stroke-linecap="round"/>
<path transform="translate(1055.8,137) rotate(180)" d="M8.83,0.00 L5.84,0.00 L0.00,6.38 L0.00,16.25 L3.10,20.00 L8.83,20.00 L11.93,16.25 L11.93,12.75 L9.42,9.62 L0.00,9.62 M20.38,0.00 L24.68,0.00 L27.30,3.75 L27.30,16.25 L24.68,20.00 L20.38,20.00 L17.76,16.25 L17.76,3.75 L20.38,0.00" fill="none" stroke="#6cbdf0" stroke-width="1.15" stroke-linejoin="round" stroke-linecap="round"/>
<path transform="translate(273.9,331.8) rotate(180)" d="M0.00,4.21 L3.58,0.37 L3.58,19.80 M0.53,19.80 L6.50,19.80 M25.20,0.00 L11.93,0.00 L11.93,6.81 L21.88,6.81 L25.20,10.52 L25.20,15.84 L21.88,19.80 L15.25,19.80 L11.93,15.84 M34.60,0.00 L39.38,0.00 L42.30,3.71 L42.30,16.09 L39.38,19.80 L34.60,19.80 L31.68,16.09 L31.68,3.71 L34.60,0.00" fill="none" stroke="#6cbdf0" stroke-width="1.15" stroke-linejoin="round" stroke-linecap="round"/>
<path transform="translate(383.4,331.8) rotate(180)" d="M12.98,19.80 L0.00,19.80 L0.00,13.24 L4.54,10.02 L10.12,10.02 L12.98,6.81 L12.98,3.71 L9.73,0.00 L3.11,0.00 L0.00,4.21 M31.00,0.00 L18.02,0.00 L18.02,6.81 L27.76,6.81 L31.00,10.52 L31.00,15.84 L27.76,19.80 L21.27,19.80 L18.02,15.84" fill="none" stroke="#6cbdf0" stroke-width="1.15" stroke-linejoin="round" stroke-linecap="round"/>
<path transform="translate(586,330.6) rotate(180)" d="M9.24,18.60 L9.24,0.00 L0.00,12.67 L12.84,12.67 M21.04,0.00 L27.46,0.00 L30.67,3.02 L30.67,5.81 L27.46,8.72 L21.04,8.72 L17.83,5.81 L17.83,3.02 L21.04,0.00 M21.04,8.72 L27.46,8.72 L30.67,12.21 L30.67,15.11 L27.46,18.60 L21.04,18.60 L17.83,15.11 L17.83,12.21 L21.04,8.72 M48.50,0.00 L35.66,0.00 L35.66,6.39 L45.29,6.39 L48.50,9.88 L48.50,14.88 L45.29,18.60 L38.87,18.60 L35.66,14.88" fill="none" stroke="#6cbdf0" stroke-width="1.15" stroke-linejoin="round" stroke-linecap="round"/>
<path transform="translate(816,331.8) rotate(180)" d="M0.00,3.70 L3.33,0.33 L3.33,17.40 M0.49,17.40 L6.05,17.40 M15.04,0.00 L19.48,0.00 L22.20,3.26 L22.20,14.14 L19.48,17.40 L15.04,17.40 L12.33,14.14 L12.33,3.26 L15.04,0.00" fill="none" stroke="#6cbdf0" stroke-width="1.15" stroke-linejoin="round" stroke-linecap="round"/>
<path transform="translate(929.8,331.1) rotate(180)" d="M0.00,4.00 L3.44,0.35 L3.44,18.80 M0.51,18.80 L6.24,18.80 M14.63,0.00 L21.00,0.00 L24.18,3.06 L24.18,5.88 L21.00,8.81 L14.63,8.81 L11.45,5.88 L11.45,3.06 L14.63,0.00 M14.63,8.81 L21.00,8.81 L24.18,12.34 L24.18,15.28 L21.00,18.80 L14.63,18.80 L11.45,15.28 L11.45,12.34 L14.63,8.81 M33.21,0.00 L37.80,0.00 L40.60,3.53 L40.60,15.28 L37.80,18.80 L33.21,18.80 L30.41,15.28 L30.41,3.53 L33.21,0.00" fill="none" stroke="#6cbdf0" stroke-width="1.15" stroke-linejoin="round" stroke-linecap="round"/>
<path transform="translate(992,331.1) rotate(180)" d="M13.02,18.80 L0.00,18.80 L0.00,12.57 L4.56,9.52 L10.15,9.52 L13.02,6.46 L13.02,3.53 L9.76,0.00 L3.12,0.00 L0.00,4.00 M31.10,0.00 L18.08,0.00 L18.08,6.46 L27.85,6.46 L31.10,9.99 L31.10,15.04 L27.85,18.80 L21.34,18.80 L18.08,15.04" fill="none" stroke="#6cbdf0" stroke-width="1.15" stroke-linejoin="round" stroke-linecap="round"/>
<path transform="translate(1057,331.1) rotate(180)" d="M9.44,0.00 L6.25,0.00 L0.00,5.99 L0.00,15.28 L3.32,18.80 L9.44,18.80 L12.76,15.28 L12.76,11.99 L10.08,9.05 L0.00,9.05 M21.80,0.00 L26.39,0.00 L29.20,3.53 L29.20,15.28 L26.39,18.80 L21.80,18.80 L18.99,15.28 L18.99,3.53 L21.80,0.00" fill="none" stroke="#6cbdf0" stroke-width="1.15" stroke-linejoin="round" stroke-linecap="round"/>
<path transform="translate(273.9,560.3) rotate(180)" d="M0.00,4.23 L3.58,0.37 L3.58,19.90 M0.53,19.90 L6.50,19.90 M25.20,0.00 L11.93,0.00 L11.93,6.84 L21.88,6.84 L25.20,10.57 L25.20,15.92 L21.88,19.90 L15.25,19.90 L11.93,15.92 M34.60,0.00 L39.38,0.00 L42.30,3.73 L42.30,16.17 L39.38,19.90 L34.60,19.90 L31.68,16.17 L31.68,3.73 L34.60,0.00" fill="none" stroke="#6cbdf0" stroke-width="1.15" stroke-linejoin="round" stroke-linecap="round"/>
<path transform="translate(378.5,560.3) rotate(180)" d="M13.60,19.90 L0.00,19.90 L0.00,13.31 L4.76,10.07 L10.61,10.07 L13.60,6.84 L13.60,3.73 L10.20,0.00 L3.27,0.00 L0.00,4.23 M32.50,0.00 L18.90,0.00 L18.90,6.84 L29.10,6.84 L32.50,10.57 L32.50,15.92 L29.10,19.90 L22.30,19.90 L18.90,15.92" fill="none" stroke="#6cbdf0" stroke-width="1.15" stroke-linejoin="round" stroke-linecap="round"/>
<path transform="translate(673,561.5) rotate(180)" d="M9.99,0.00 L6.62,0.00 L0.00,6.34 L0.00,16.17 L3.51,19.90 L9.99,19.90 L13.50,16.17 L13.50,12.69 L10.67,9.58 L0.00,9.58 M18.75,0.00 L32.25,0.00 L21.99,19.90 M51.00,0.00 L37.50,0.00 L37.50,6.84 L47.62,6.84 L51.00,10.57 L51.00,15.92 L47.62,19.90 L40.88,19.90 L37.50,15.92" fill="none" stroke="#6cbdf0" stroke-width="1.15" stroke-linejoin="round" stroke-linecap="round"/>
<path transform="translate(991,561) rotate(180)" d="M12.56,19.50 L0.00,19.50 L0.00,13.04 L4.40,9.87 L9.80,9.87 L12.56,6.70 L12.56,3.66 L9.42,0.00 L3.01,0.00 L0.00,4.14 M30.00,0.00 L17.44,0.00 L17.44,6.70 L26.86,6.70 L30.00,10.36 L30.00,15.60 L26.86,19.50 L20.58,19.50 L17.44,15.60" fill="none" stroke="#6cbdf0" stroke-width="1.15" stroke-linejoin="round" stroke-linecap="round"/>
<path transform="translate(1056.4,560.5) rotate(180)" d="M9.28,0.00 L6.14,0.00 L0.00,6.06 L0.00,15.44 L3.26,19.00 L9.28,19.00 L12.54,15.44 L12.54,12.11 L9.91,9.14 L0.00,9.14 M21.43,0.00 L25.94,0.00 L28.70,3.56 L28.70,15.44 L25.94,19.00 L21.43,19.00 L18.67,15.44 L18.67,3.56 L21.43,0.00" fill="none" stroke="#6cbdf0" stroke-width="1.15" stroke-linejoin="round" stroke-linecap="round"/>
<path transform="translate(273.9,710.3) rotate(180)" d="M0.00,3.95 L3.58,0.35 L3.58,18.60 M0.53,18.60 L6.50,18.60 M25.20,0.00 L11.93,0.00 L11.93,6.39 L21.88,6.39 L25.20,9.88 L25.20,14.88 L21.88,18.60 L15.25,18.60 L11.93,14.88 M34.60,0.00 L39.38,0.00 L42.30,3.49 L42.30,15.11 L39.38,18.60 L34.60,18.60 L31.68,15.11 L31.68,3.49 L34.60,0.00" fill="none" stroke="#6cbdf0" stroke-width="1.15" stroke-linejoin="round" stroke-linecap="round"/>
<path transform="translate(373,710.3) rotate(180)" d="M11.30,18.60 L0.00,18.60 L0.00,12.44 L3.96,9.42 L8.82,9.42 L11.30,6.39 L11.30,3.49 L8.48,0.00 L2.71,0.00 L0.00,3.95 M27.00,0.00 L15.70,0.00 L15.70,6.39 L24.17,6.39 L27.00,9.88 L27.00,14.88 L24.17,18.60 L18.52,18.60 L15.70,14.88" fill="none" stroke="#6cbdf0" stroke-width="1.15" stroke-linejoin="round" stroke-linecap="round"/>
<path transform="translate(586,710.3) rotate(180)" d="M9.53,18.60 L9.53,0.00 L0.00,12.67 L13.24,12.67 M21.69,0.00 L28.31,0.00 L31.62,3.02 L31.62,5.81 L28.31,8.72 L21.69,8.72 L18.38,5.81 L18.38,3.02 L21.69,0.00 M21.69,8.72 L28.31,8.72 L31.62,12.21 L31.62,15.11 L28.31,18.60 L21.69,18.60 L18.38,15.11 L18.38,12.21 L21.69,8.72 M50.00,0.00 L36.76,0.00 L36.76,6.39 L46.69,6.39 L50.00,9.88 L50.00,14.88 L46.69,18.60 L40.07,18.60 L36.76,14.88" fill="none" stroke="#6cbdf0" stroke-width="1.15" stroke-linejoin="round" stroke-linecap="round"/>
<path transform="translate(843.4,710) rotate(180)" d="M0.00,4.08 L3.47,0.36 L3.47,19.20 M0.51,19.20 L6.30,19.20 M14.91,19.20 L18.12,19.20 L24.42,13.08 L24.42,3.60 L21.08,0.00 L14.91,0.00 L11.56,3.60 L11.56,6.96 L14.26,9.96 L24.42,9.96 M33.54,0.00 L38.17,0.00 L41.00,3.60 L41.00,15.60 L38.17,19.20 L33.54,19.20 L30.71,15.60 L30.71,3.60 L33.54,0.00" fill="none" stroke="#6cbdf0" stroke-width="1.15" stroke-linejoin="round" stroke-linecap="round"/>
<path transform="translate(992.5,710) rotate(180)" d="M13.73,19.20 L0.00,19.20 L0.00,12.84 L4.81,9.72 L10.71,9.72 L13.73,6.60 L13.73,3.60 L10.30,0.00 L3.30,0.00 L0.00,4.08 M32.80,0.00 L19.07,0.00 L19.07,6.60 L29.37,6.60 L32.80,10.20 L32.80,15.36 L29.37,19.20 L22.50,19.20 L19.07,15.36" fill="none" stroke="#6cbdf0" stroke-width="1.15" stroke-linejoin="round" stroke-linecap="round"/>
<path transform="translate(1056.8,710) rotate(180)" d="M9.73,0.00 L6.44,0.00 L0.00,6.12 L0.00,15.60 L3.42,19.20 L9.73,19.20 L13.15,15.60 L13.15,12.24 L10.39,9.24 L0.00,9.24 M22.47,0.00 L27.21,0.00 L30.10,3.60 L30.10,15.60 L27.21,19.20 L22.47,19.20 L19.58,15.60 L19.58,3.60 L22.47,0.00" fill="none" stroke="#6cbdf0" stroke-width="1.15" stroke-linejoin="round" stroke-linecap="round"/>
<path transform="translate(475,177) rotate(-90)" d="M13.48,19.00 L0.00,19.00 L0.00,12.71 L4.72,9.62 L10.51,9.62 L13.48,6.53 L13.48,3.56 L10.11,0.00 L3.23,0.00 L0.00,4.04 M32.20,0.00 L18.72,0.00 L18.72,6.53 L28.83,6.53 L32.20,10.09 L32.20,15.20 L28.83,19.00 L22.09,19.00 L18.72,15.20" fill="none" stroke="#6cbdf0" stroke-width="1.15" stroke-linejoin="round" stroke-linecap="round"/>
<path transform="translate(469,659.4) rotate(-90)" d="M13.56,20.00 L0.00,20.00 L0.00,13.38 L4.75,10.12 L10.58,10.12 L13.56,6.88 L13.56,3.75 L10.17,0.00 L3.26,0.00 L0.00,4.25 M32.40,0.00 L18.84,0.00 L18.84,6.88 L29.01,6.88 L32.40,10.62 L32.40,16.00 L29.01,20.00 L22.23,20.00 L18.84,16.00" fill="none" stroke="#6cbdf0" stroke-width="1.15" stroke-linejoin="round" stroke-linecap="round"/>
<path transform="translate(472.2,425.2) rotate(-90)" d="M9.18,18.80 L9.18,0.00 L0.00,12.81 L12.75,12.81 M17.71,3.53 L20.90,0.00 L27.28,0.00 L30.46,3.53 L30.46,5.88 L27.28,8.81 L22.81,8.81 M27.28,8.81 L30.46,11.75 L30.46,15.28 L27.28,18.80 L20.90,18.80 L17.71,15.28 M39.50,0.00 L44.09,0.00 L46.90,3.53 L46.90,15.28 L44.09,18.80 L39.50,18.80 L36.70,15.28 L36.70,3.53 L39.50,0.00" fill="none" stroke="#6cbdf0" stroke-width="1.15" stroke-linejoin="round" stroke-linecap="round"/>
<path transform="translate(151.6,423.8) rotate(-90)" d="M9.38,19.90 L9.38,0.00 L0.00,13.56 L13.02,13.56 M18.09,3.73 L21.34,0.00 L27.86,0.00 L31.11,3.73 L31.11,6.22 L27.86,9.33 L23.30,9.33 M27.86,9.33 L31.11,12.44 L31.11,16.17 L27.86,19.90 L21.34,19.90 L18.09,16.17 M49.20,0.00 L36.18,0.00 L36.18,6.84 L45.94,6.84 L49.20,10.57 L49.20,15.92 L45.94,19.90 L39.43,19.90 L36.18,15.92" fill="none" stroke="#6cbdf0" stroke-width="1.15" stroke-linejoin="round" stroke-linecap="round"/>
<path transform="translate(854.7,365.4) rotate(-90)" d="M13.50,19.90 L0.00,19.90 L0.00,13.31 L4.72,10.07 L10.53,10.07 L13.50,6.84 L13.50,3.73 L10.12,0.00 L3.24,0.00 L0.00,4.23 M22.26,19.90 L25.63,19.90 L32.25,13.56 L32.25,3.73 L28.74,0.00 L22.26,0.00 L18.75,3.73 L18.75,7.21 L21.59,10.32 L32.25,10.32 M51.00,0.00 L37.50,0.00 L37.50,6.84 L47.62,6.84 L51.00,10.57 L51.00,15.92 L47.62,19.90 L40.88,19.90 L37.50,15.92" fill="none" stroke="#6cbdf0" stroke-width="1.15" stroke-linejoin="round" stroke-linecap="round"/>
<path transform="translate(995,298.8) rotate(-90)" d="M9.66,0.00 L6.39,0.00 L0.00,6.25 L0.00,15.93 L3.39,19.60 L9.66,19.60 L13.05,15.93 L13.05,12.50 L10.31,9.43 L0.00,9.43 M31.18,0.00 L18.13,0.00 L18.13,6.74 L27.91,6.74 L31.18,10.41 L31.18,15.68 L27.91,19.60 L21.39,19.60 L18.13,15.68 M49.30,0.00 L36.25,0.00 L36.25,6.74 L46.04,6.74 L49.30,10.41 L49.30,15.68 L46.04,19.60 L39.51,19.60 L36.25,15.68" fill="none" stroke="#6cbdf0" stroke-width="1.15" stroke-linejoin="round" stroke-linecap="round"/>
<path transform="translate(855.6,477) rotate(-90)" d="M0.00,3.85 L2.54,0.34 L2.54,18.10 M0.38,18.10 L4.61,18.10 M13.07,3.85 L15.61,0.34 L15.61,18.10 M13.45,18.10 L17.68,18.10 M24.54,0.00 L27.93,0.00 L30.00,3.39 L30.00,14.71 L27.93,18.10 L24.54,18.10 L22.47,14.71 L22.47,3.39 L24.54,0.00" fill="none" stroke="#6cbdf0" stroke-width="1.15" stroke-linejoin="round" stroke-linecap="round"/>
<path transform="translate(854.7,561.5) rotate(-90)" d="M0.00,4.23 L3.68,0.37 L3.68,19.90 M0.55,19.90 L6.68,19.90 M25.87,19.90 L12.25,19.90 L12.25,13.31 L17.02,10.07 L22.88,10.07 L25.87,6.84 L25.87,3.73 L22.47,0.00 L15.52,0.00 L12.25,4.23 M44.80,0.00 L31.17,0.00 L31.17,6.84 L41.39,6.84 L44.80,10.57 L44.80,15.92 L41.39,19.90 L34.58,19.90 L31.17,15.92" fill="none" stroke="#6cbdf0" stroke-width="1.15" stroke-linejoin="round" stroke-linecap="round"/>
<path transform="translate(854.4,688) rotate(-90)" d="M0.00,4.06 L3.15,0.36 L3.15,19.10 M0.47,19.10 L5.71,19.10 M16.18,4.06 L19.32,0.36 L19.32,19.10 M16.65,19.10 L21.89,19.10 M38.30,0.00 L26.65,0.00 L26.65,6.57 L35.39,6.57 L38.30,10.15 L38.30,15.28 L35.39,19.10 L29.56,19.10 L26.65,15.28" fill="none" stroke="#6cbdf0" stroke-width="1.15" stroke-linejoin="round" stroke-linecap="round"/>
<path transform="translate(854.6,201.6) rotate(-90)" d="M13.52,19.80 L0.00,19.80 L0.00,13.24 L4.73,10.02 L10.55,10.02 L13.52,6.81 L13.52,3.71 L10.14,0.00 L3.25,0.00 L0.00,4.21 M32.30,0.00 L18.78,0.00 L18.78,6.81 L28.92,6.81 L32.30,10.52 L32.30,15.84 L28.92,19.80 L22.16,19.80 L18.78,15.84" fill="none" stroke="#6cbdf0" stroke-width="1.15" stroke-linejoin="round" stroke-linecap="round"/>
<path transform="translate(856,610) rotate(-90)" d="M13.40,16.00 L0.00,16.00 L0.00,10.70 L4.69,8.10 L10.45,8.10 L13.40,5.50 L13.40,3.00 L10.05,0.00 L3.21,0.00 L0.00,3.40 M32.00,0.00 L18.60,0.00 L18.60,5.50 L28.65,5.50 L32.00,8.50 L32.00,12.80 L28.65,16.00 L21.95,16.00 L18.60,12.80" fill="none" stroke="#6cbdf0" stroke-width="1.15" stroke-linejoin="round" stroke-linecap="round"/>
<path transform="translate(889,236) rotate(-90)" d="M2.34,0.00 L7.03,0.00 L9.38,2.32 L9.38,4.47 L7.03,6.70 L2.34,6.70 L0.00,4.47 L0.00,2.32 L2.34,0.00 M2.34,6.70 L7.03,6.70 L9.38,9.38 L9.38,11.62 L7.03,14.30 L2.34,14.30 L0.00,11.62 L0.00,9.38 L2.34,6.70 M22.40,0.00 L13.02,0.00 L13.02,4.92 L20.06,4.92 L22.40,7.60 L22.40,11.44 L20.06,14.30 L15.37,14.30 L13.02,11.44" fill="none" stroke="#6cbdf0" stroke-width="1.15" stroke-linejoin="round" stroke-linecap="round"/>
<path transform="translate(995,561) rotate(-90)" d="M0.00,4.04 L3.22,0.36 L3.22,19.00 M0.48,19.00 L5.84,19.00 M14.53,0.00 L18.82,0.00 L21.44,3.56 L21.44,15.44 L18.82,19.00 L14.53,19.00 L11.91,15.44 L11.91,3.56 L14.53,0.00 M31.09,0.00 L35.38,0.00 L38.00,3.56 L38.00,15.44 L35.38,19.00 L31.09,19.00 L28.46,15.44 L28.46,3.56 L31.09,0.00" fill="none" stroke="#6cbdf0" stroke-width="1.15" stroke-linejoin="round" stroke-linecap="round"/>
<path transform="translate(995,623.8) rotate(-90)" d="M12.58,0.00 L0.00,0.00 L0.00,6.67 L9.44,6.67 L12.58,10.31 L12.58,15.52 L9.44,19.40 L3.15,19.40 L0.00,15.52 M21.50,0.00 L26.03,0.00 L28.80,3.64 L28.80,15.76 L26.03,19.40 L21.50,19.40 L18.73,15.76 L18.73,3.64 L21.50,0.00" fill="none" stroke="#6cbdf0" stroke-width="1.15" stroke-linejoin="round" stroke-linecap="round"/>
<path transform="translate(995,695) rotate(-90)" d="M0.00,4.04 L3.05,0.36 L3.05,19.00 M0.45,19.00 L5.53,19.00 M13.77,0.00 L17.83,0.00 L20.32,3.56 L20.32,15.44 L17.83,19.00 L13.77,19.00 L11.28,15.44 L11.28,3.56 L13.77,0.00 M29.45,0.00 L33.52,0.00 L36.00,3.56 L36.00,15.44 L33.52,19.00 L29.45,19.00 L26.97,15.44 L26.97,3.56 L29.45,0.00" fill="none" stroke="#6cbdf0" stroke-width="1.15" stroke-linejoin="round" stroke-linecap="round"/>
<text transform="translate(366.2,388.5) rotate(180)" x="0" y="0" font-family="Liberation Sans" font-size="12.79" fill="#eef8ff" textLength="20.0" lengthAdjust="spacingAndGlyphs">225</text>
<text transform="translate(366.2,401.2) rotate(180)" x="0" y="0" font-family="Liberation Sans" font-size="12.21" fill="#eef8ff" textLength="20.0" lengthAdjust="spacingAndGlyphs">200</text>
<polyline points="863.2,68.8 863.2,72.6 866.4,75.8 873.9,75.8" fill="none" stroke="#6cbdf0" stroke-width="1.1"/>
<line x1="854.5" y1="68.8" x2="857.9" y2="76" stroke="#6cbdf0" stroke-width="1.1"/>
<text transform="translate(564.8,496.3) rotate(-90)" x="0" y="0" font-family="Liberation Sans" font-size="25.87" fill="#eef8ff" textLength="163.0" lengthAdjust="spacingAndGlyphs">YAŞAM + MUTAK</text>
<text transform="translate(581.7,99.5) rotate(-90)" x="0" y="0" font-family="Liberation Sans" font-size="27.18" fill="#eef8ff" textLength="179.5" lengthAdjust="spacingAndGlyphs">YAŞAM + MUTAK</text>
<text transform="translate(584.3,457.9) rotate(-90)" x="0" y="0" font-family="Liberation Sans" font-size="15.14" fill="#eef8ff" textLength="87.9" lengthAdjust="spacingAndGlyphs">ALAN :18.00m2.</text>
<text transform="translate(252.1,424.5) rotate(-90)" x="0" y="0" font-family="Liberation Sans" font-size="21.95" fill="#eef8ff" textLength="62.9" lengthAdjust="spacingAndGlyphs">BALKON</text>
<text transform="translate(268.5,432.7) rotate(-90)" x="0" y="0" font-family="Liberation Sans" font-size="15.97" fill="#eef8ff" textLength="80.7" lengthAdjust="spacingAndGlyphs">ALAN :6.50m2.</text>
<text transform="translate(811,396) rotate(-90)" x="0" y="0" font-family="Liberation Sans" font-size="21.80" fill="#eef8ff" textLength="63.0" lengthAdjust="spacingAndGlyphs">DUŞ-WC</text>
<text transform="translate(814.9,87.9) rotate(-90)" x="0" y="0" font-family="Liberation Sans" font-size="19.19" fill="#eef8ff" textLength="63.0" lengthAdjust="spacingAndGlyphs">DUŞ-WC</text>
<text transform="translate(831.5,486) rotate(-90)" x="0" y="0" font-family="Liberation Sans" font-size="16.42" fill="#eef8ff" textLength="212.6" lengthAdjust="spacingAndGlyphs">MEKANİK HAVALANDIRMALI</text>
<text transform="translate(833.2,164.8) rotate(-90)" x="0" y="0" font-family="Liberation Sans" font-size="17.01" fill="#eef8ff" textLength="212.3" lengthAdjust="spacingAndGlyphs">MEKANİK HAVALANDIRMALI</text>
<text transform="translate(848.5,411.4) rotate(-90)" x="0" y="0" font-family="Liberation Sans" font-size="19.03" fill="#eef8ff" textLength="105.7" lengthAdjust="spacingAndGlyphs">ALAN:4.80 m2.</text>
<text transform="translate(850.8,100.3) rotate(-90)" x="0" y="0" font-family="Liberation Sans" font-size="14.17" fill="#eef8ff" textLength="105.7" lengthAdjust="spacingAndGlyphs">ALAN:4.80 m2.</text>
<text transform="translate(1027.8,443.3) rotate(-90)" x="0" y="0" font-family="Liberation Sans" font-size="20.64" fill="#eef8ff" textLength="60.3" lengthAdjust="spacingAndGlyphs">+12.55</text>
<text transform="translate(1048.5,433.8) rotate(-90)" x="0" y="0" font-family="Liberation Sans" font-size="21.95" fill="#eef8ff" textLength="49.0" lengthAdjust="spacingAndGlyphs">+9.70</text>
<text transform="translate(1066,435) rotate(-90)" x="0" y="0" font-family="Liberation Sans" font-size="20.35" fill="#eef8ff" textLength="50.0" lengthAdjust="spacingAndGlyphs">+6.85</text>
<text transform="translate(994,229.7) rotate(-90)" x="0" y="0" font-family="Liberation Sans" font-size="13.08" fill="#eef8ff" textLength="28.7" lengthAdjust="spacingAndGlyphs">BACASI</text>
<text transform="translate(1005.7,232.4) rotate(-90)" x="0" y="0" font-family="Liberation Sans" font-size="11.77" fill="#eef8ff" textLength="71.8" lengthAdjust="spacingAndGlyphs">HAVALANDIRMA</text>
<text transform="translate(1019,232.4) rotate(-90)" x="0" y="0" font-family="Liberation Sans" font-size="11.63" fill="#eef8ff" textLength="41.4" lengthAdjust="spacingAndGlyphs">MEKANİK</text>
</g>
</svg>
</body></html>
